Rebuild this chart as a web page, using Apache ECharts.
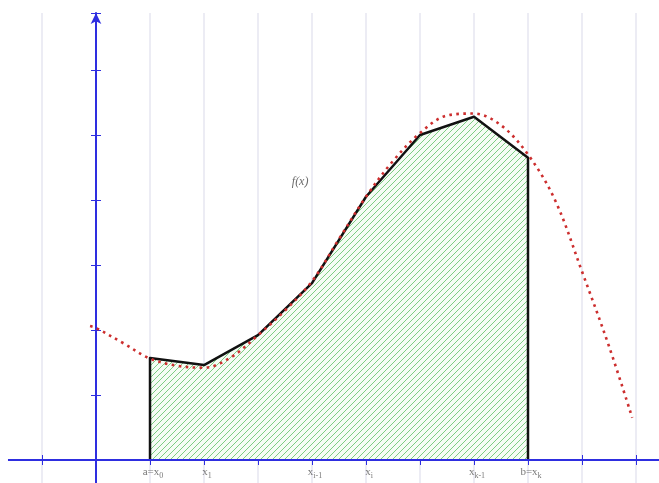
<!DOCTYPE html>
<html>
<head>
<meta charset="utf-8">
<script src="https://cdn.jsdelivr.net/npm/echarts@6/dist/echarts.min.js"></script>
<style>
  html, body { margin: 0; padding: 0; background: #fff; }
  #chart { width: 659px; height: 483px; }
</style>
</head>
<body>
<div id="chart"></div>
<script>
// Trapezoid nodes x0..xk and the polygonal approximation of f
const nodeX = [1, 2, 3, 4, 5, 6, 7, 8];
const nodeY = [1.57, 1.46, 1.92, 2.72, 4.05, 5.0, 5.28, 4.65];

// Samples of the curve f(x)
const curveX = [-0.11, 0, 0.5, 1, 1.5, 2, 2.5, 3, 3.5, 4, 4.5, 5, 5.5, 6, 6.5, 7, 7.5, 8, 8.5, 9, 9.5, 9.93];
const curveY = [2.06, 2.03, 1.8, 1.56, 1.45, 1.42, 1.58, 1.92, 2.3, 2.75, 3.4, 4.05, 4.6, 5.03, 5.3, 5.33, 5.15, 4.7, 4.0, 2.9, 1.75, 0.65];

// Tick labels under the x axis (rich text with subscripts)
const tickLabelX = [1, 2, 4, 5, 7, 8];
const tickLabels = ['a=x{s|0}', 'x{s|1}', 'x{s|i-1}', 'x{s|i}', 'x{s|k-1}', 'b=x{s|k}'];

// Function name annotation
const fLabel = { x: 3.78, y: 4.28, text: 'f(x)' };

// Extent of the drawn x axis line
const axisLineX = [-1.63, 10.43];

const AXIS_BLUE = '#2e2ee0';

// Hatched fill pattern: thin green diagonals on a pale green ground
function makeHatch() {
  const s = 6;
  const c = document.createElement('canvas');
  c.width = s; c.height = s;
  const g = c.getContext('2d');
  g.fillStyle = '#f5fcf4';
  g.fillRect(0, 0, s, s);
  g.strokeStyle = '#6fc776';
  g.lineWidth = 0.9;
  for (const off of [-s, 0, s]) {
    g.beginPath();
    g.moveTo(off, s);
    g.lineTo(off + s, 0);
    g.stroke();
  }
  return c;
}

const polyData = [[nodeX[0], 0]]
  .concat(nodeX.map((x, i) => [x, nodeY[i]]))
  .concat([[nodeX[nodeX.length - 1], 0]]);

const chart = echarts.init(document.getElementById('chart'), null, { renderer: 'canvas' });

const baseX = {
  type: 'value', min: -2, max: 11, interval: 1,
  axisLabel: { show: false },
  axisLine: { show: false, onZero: true },
};
const baseY = {
  type: 'value', min: -1, max: 6.877, interval: 1,
  axisLabel: { show: false },
  splitLine: { show: false },
};

chart.setOption({
  animation: false,
  backgroundColor: '#ffffff',
  grid: { left: -12, right: -31, top: 13, bottom: -42, containLabel: false, outerBoundsMode: 'none' },
  xAxis: [
    Object.assign({}, baseX, {
      position: 'bottom',
      splitLine: { show: true, lineStyle: { color: '#e6e6f0', width: 1.5 } },
      axisTick: { show: true, inside: false, length: 5, lineStyle: { color: AXIS_BLUE, width: 1 } }
    }),
    Object.assign({}, baseX, {
      position: 'bottom',
      splitLine: { show: false },
      axisTick: { show: true, inside: true, length: 5, lineStyle: { color: AXIS_BLUE, width: 1 } }
    })
  ],
  yAxis: [
    Object.assign({}, baseY, {
      position: 'left', z: 5,
      axisLine: { show: true, onZero: true, symbol: ['none', 'arrow'], symbolSize: [8, 11],
                  lineStyle: { color: AXIS_BLUE, width: 2 } },
      axisTick: { show: true, inside: false, length: 5, lineStyle: { color: AXIS_BLUE, width: 1 } }
    }),
    Object.assign({}, baseY, {
      position: 'left',
      axisLine: { show: false, onZero: true },
      axisTick: { show: true, inside: true, length: 5, lineStyle: { color: AXIS_BLUE, width: 1 } }
    })
  ],
  series: [
    {
      name: 'trapezoids', type: 'line', data: polyData,
      symbol: 'none', silent: true, z: 3,
      lineStyle: { color: '#111111', width: 2.5, join: 'round' },
      areaStyle: { color: { image: makeHatch(), repeat: 'repeat' }, opacity: 1 }
    },
    {
      name: 'xaxis', type: 'line', data: axisLineX.map(x => [x, 0]),
      symbol: 'none', silent: true, z: 4,
      lineStyle: { color: AXIS_BLUE, width: 2 }
    },
    {
      name: 'f', type: 'line', data: curveX.map((x, i) => [x, curveY[i]]),
      symbol: 'none', smooth: 0.35, silent: true, z: 6,
      lineStyle: { color: '#cc2e2e', width: 2.6, type: [2.6, 4.4], cap: 'butt' }
    },
    {
      name: 'ticklabels', type: 'scatter', symbolSize: 0, silent: true, z: 7,
      data: tickLabelX.map((x, i) => ({ value: [x, 0], label: { formatter: tickLabels[i] } })),
      label: {
        show: true, position: 'bottom', distance: 5, offset: [3, 0],
        fontFamily: 'Liberation Serif', fontSize: 11, color: '#555555',
        rich: { s: { fontFamily: 'Liberation Serif', fontSize: 8, color: '#555555', padding: [7, 0, 0, 0], verticalAlign: 'bottom' } }
      }
    },
    {
      name: 'flabel', type: 'scatter', symbolSize: 0, silent: true, z: 7,
      data: [{ value: [fLabel.x, fLabel.y], label: { formatter: fLabel.text } }],
      label: {
        show: true, position: 'inside',
        fontFamily: 'Liberation Serif', fontStyle: 'italic', fontSize: 12, color: '#444444'
      }
    }
  ]
});
</script>
</body>
</html>
